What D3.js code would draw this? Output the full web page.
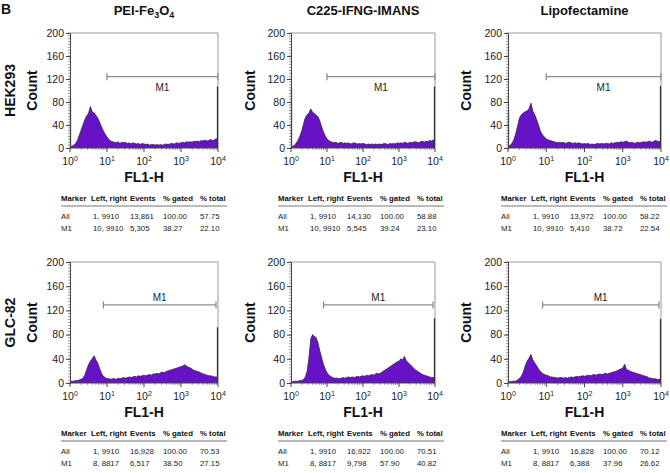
<!DOCTYPE html>
<html><head><meta charset="utf-8">
<script src="https://cdn.jsdelivr.net/npm/d3@7"></script>
<style>
body{margin:0;background:#fff}
svg{display:block}
text{font-family:"Liberation Sans",Arial,Helvetica,sans-serif}
</style>
</head><body>
<svg id="c" width="670" height="473"></svg>
<script>
// ---------- DATA ----------
const panelLetter = "B";
const rowLabels = ["HEK293", "GLC-82"];
const colTitles = [
  [["PEI-Fe", ""], ["3", "sub"], ["O", ""], ["4", "sub"]],
  [["C225-IFNG-IMANS", ""]],
  [["Lipofectamine", ""]]
];
const xAxisLabel = "FL1-H";
const yAxisLabel = "Count";
const yTicks = [0, 40, 80, 120, 160, 200];
const xTickExps = [0, 1, 2, 3, 4];
const gateName = "M1";
const gateLevel = [124, 129];          // count level of the M1 marker, per row

// channel positions (log10 of FL1-H), 0 .. 4 in steps of 0.05
const channelLogs = d3.range(0, 81).map(i => i / 20);

const hekPei = [2,3,5,8,13,22,31,40,49,56,60,72,63,61,57,52,45,37,30,24,
  19,15,12,11,10,9,11,8,10,9,10,8,9,7,9,8,7,8,6,8,
  7,6,7,5,6,6,5,6,5,6,5,6,7,6,7,8,7,8,9,8,
  9,10,9,11,10,11,10,12,11,12,11,13,12,14,12,13,15,13,14,16,
  15];
const hekC225 = [2,3,5,9,14,21,30,42,53,58,61,68,62,60,57,54,47,37,28,21,
  16,13,11,10,9,10,8,9,10,8,9,8,9,7,8,9,8,7,8,7,
  8,7,6,7,6,7,6,7,6,7,6,7,8,7,6,8,7,8,7,9,
  8,9,8,10,9,8,10,9,10,11,10,9,11,12,10,12,11,13,12,14,
  13];
const hekLipo = [3,4,8,14,24,38,52,58,61,63,65,68,78,64,58,49,39,29,23,19,
  16,14,13,12,11,10,9,10,9,10,8,9,10,9,8,9,8,9,8,7,
  8,7,8,6,7,6,7,8,7,8,7,8,8,7,9,8,9,10,9,11,
  10,11,12,10,9,10,8,9,10,9,10,11,10,11,12,10,11,13,12,11,
  12];
const glcPei = [3,3,3,4,4,5,6,8,13,22,30,36,40,45,38,33,24,16,11,9,
  7,7,6,7,7,6,8,7,8,9,8,9,10,9,10,11,10,12,11,12,
  13,12,13,14,13,15,15,16,15,17,18,17,19,20,21,22,23,24,25,26,
  27,28,30,28,26,25,23,21,20,19,18,16,15,14,13,12,12,11,10,10,
  9];
const glcC225 = [2,2,3,3,3,4,4,6,10,20,42,73,80,77,75,66,53,42,31,23,
  17,13,11,9,8,8,8,7,8,9,8,9,10,9,10,9,10,11,10,11,
  12,11,13,12,13,14,13,15,16,15,17,19,21,23,25,27,29,31,33,35,
  36,40,38,44,37,34,31,28,25,22,20,18,16,14,13,12,11,10,9,9,
  8];
const glcLipo = [2,2,3,3,3,5,8,11,18,28,36,41,47,38,33,28,23,19,16,14,
  13,12,10,10,9,9,8,9,9,8,9,8,9,10,9,10,11,10,11,12,
  11,12,13,12,13,14,13,14,15,14,15,16,15,16,17,18,19,20,22,23,
  25,31,22,21,19,18,17,16,15,14,13,12,11,10,8,8,7,7,6,6,
  5];
// counts piled in the first and last channel
const firstChannel = [[86, 105, 66], [3, 3, 3]];
const lastChannel = [[107, 107, 108], [92, 107, 106]];

const tableHeader = ["Marker", "Left, right", "Events", "% gated", "% total"];
const tables = [
  [
    [["All","1, 9910","13,861","100.00","57.75"],["M1","10, 9910","5,305","38.27","22.10"]],
    [["All","1, 9910","14,130","100.00","58.88"],["M1","10, 9910","5,545","39.24","23.10"]],
    [["All","1, 9910","13,972","100.00","58.22"],["M1","10, 9910","5,410","38.72","22.54"]]
  ],
  [
    [["All","1, 9910","16,928","100.00","70.53"],["M1","8, 8817","6,517","38.50","27.15"]],
    [["All","1, 9910","16,922","100.00","70.51"],["M1","8, 8817","9,798","57.90","40.82"]],
    [["All","1, 9910","16,828","100.00","70.12"],["M1","8, 8817","6,388","37.96","26.62"]]
  ]
];
const seriesGrid = [[hekPei, hekC225, hekLipo], [glcPei, glcC225, glcLipo]];

// ---------- LAYOUT ----------
const colX = [[70, 218], [291, 435], [508, 661]];
const rowY = [[33, 148], [262, 383]];
const tableLeft = [61, 278, 501];
const countX = [32, 250, 466];
const headerOff = [0, 30, 69, 102, 139];
const valueOff = [0, 32, 69, 102, 139];
const fillColor = "#6812c8";

const svg = d3.select("#c");

svg.append("text").attr("x", 1).attr("y", 14).attr("font-size", 14).attr("font-weight", "bold")
  .attr("fill", "#111").text(panelLetter);

// column titles
colTitles.forEach((parts, c) => {
  const t = svg.append("text").attr("x", (colX[c][0] + colX[c][1]) / 2).attr("y", 14.5)
    .attr("text-anchor", "middle").attr("font-size", 13).attr("font-weight", "bold").attr("fill", "#111");
  let shifted = 0;
  parts.forEach(([s, kind]) => {
    const ts = t.append("tspan").text(s);
    if (kind === "sub") { ts.attr("dy", 3 - shifted).attr("font-size", 9); shifted = 3; }
    else if (shifted) { ts.attr("dy", -shifted); shifted = 0; }
  });
});

rowLabels.forEach((lab, r) => {
  const [top, bottom] = rowY[r];
  svg.append("text").attr("transform", `translate(10,${(top + bottom) / 2}) rotate(-90)`)
    .attr("text-anchor", "middle").attr("dominant-baseline", "central")
    .attr("font-size", 14).attr("font-weight", "bold").attr("fill", "#111").text(lab);

  for (let c = 0; c < 3; c++) {
    const [left, right] = colX[c];
    const x = d3.scaleLog().domain([1, 1e4]).range([left, right]);
    const y = d3.scaleLinear().domain([0, 200]).range([bottom, top]);
    const g = svg.append("g");
    const data = seriesGrid[r][c].map((cnt, i) => ({ v: Math.pow(10, channelLogs[i]), c: cnt }));

    // histogram
    g.append("path").datum(data)
      .attr("d", d3.area().x(d => x(d.v)).y0(bottom).y1(d => y(d.c)))
      .attr("fill", fillColor);
    g.append("path").datum(data)
      .attr("d", d3.line().x(d => x(d.v)).y(d => y(d.c)))
      .attr("fill", "none").attr("stroke", "#2b2b2b").attr("stroke-width", 0.8);

    // frame top/right
    g.append("line").attr("x1", left).attr("x2", right).attr("y1", top).attr("y2", top)
      .attr("stroke", "#9a9a9a").attr("stroke-width", 1);
    g.append("line").attr("x1", right).attr("x2", right).attr("y1", top).attr("y2", bottom)
      .attr("stroke", "#9a9a9a").attr("stroke-width", 1);

    // edge channels
    g.append("line").attr("x1", x(1) + 0.5).attr("x2", x(1) + 0.5).attr("y1", bottom).attr("y2", y(firstChannel[r][c]))
      .attr("stroke", "#333").attr("stroke-width", 1.3);
    g.append("line").attr("x1", x(1e4) - 0.5).attr("x2", x(1e4) - 0.5).attr("y1", bottom).attr("y2", y(lastChannel[r][c]))
      .attr("stroke", "#333").attr("stroke-width", 1.3);

    // y axis
    const ya = g.append("g").attr("transform", `translate(${left},0)`)
      .call(d3.axisLeft(y).tickValues(yTicks).tickSize(4).tickPadding(2));
    ya.select(".domain").attr("stroke", "#444");
    ya.selectAll(".tick line").attr("stroke", "#444");
    ya.selectAll("text").attr("font-size", 10.5).attr("fill", "#222")
      .attr("font-family", '"Liberation Sans",Arial,sans-serif');
    g.append("g").selectAll("line").data(d3.range(0, 201, 5)).join("line")
      .attr("x1", left - 2).attr("x2", left).attr("y1", d => y(d)).attr("y2", d => y(d))
      .attr("stroke", "#555").attr("stroke-width", 0.6);

    // x axis
    g.append("line").attr("x1", left).attr("x2", right).attr("y1", bottom).attr("y2", bottom)
      .attr("stroke", "#444");
    const minors = [];
    for (let e = 0; e < 4; e++) for (let k = 2; k < 10; k++) minors.push(k * Math.pow(10, e));
    g.append("g").selectAll("line").data(minors).join("line")
      .attr("x1", d => x(d)).attr("x2", d => x(d)).attr("y1", bottom).attr("y2", bottom + 2)
      .attr("stroke", "#555").attr("stroke-width", 0.6);
    xTickExps.forEach(e => {
      const xv = x(Math.pow(10, e));
      g.append("line").attr("x1", xv).attr("x2", xv).attr("y1", bottom).attr("y2", bottom + 4).attr("stroke", "#444");
      const t = g.append("text").attr("x", xv).attr("y", bottom + 17).attr("text-anchor", "middle")
        .attr("font-size", 10.5).attr("fill", "#222");
      t.append("tspan").text("10");
      t.append("tspan").attr("dy", -4).attr("font-size", 7).text(String(e));
    });

    // axis titles
    g.append("text").attr("x", (left + right) / 2).attr("y", bottom + 34).attr("text-anchor", "middle")
      .attr("font-size", 14).attr("font-weight", "bold").attr("fill", "#111").text(xAxisLabel);
    g.append("text").attr("transform", `translate(${countX[c]},${(top + bottom) / 2}) rotate(-90)`)
      .attr("text-anchor", "middle").attr("dominant-baseline", "central")
      .attr("font-size", 14).attr("font-weight", "bold").attr("fill", "#111").text(yAxisLabel);

    // M1 gate
    const tbl = tables[r][c];
    const gateRange = tbl[1][1].split(",").map(s => +s.trim());
    const gx0 = x(gateRange[0]), gx1 = x(gateRange[1]), gy = y(gateLevel[r]);
    g.append("line").attr("x1", gx0).attr("x2", gx1).attr("y1", gy).attr("y2", gy)
      .attr("stroke", "#8c8c8c").attr("stroke-width", 1.3);
    [gx0, gx1].forEach(xx => g.append("line").attr("x1", xx).attr("x2", xx).attr("y1", gy - 3.5).attr("y2", gy + 3.5)
      .attr("stroke", "#8c8c8c").attr("stroke-width", 1.3));
    g.append("text").attr("x", (gx0 + gx1) / 2).attr("y", r === 0 ? gy + 11 : gy - 7)
      .attr("text-anchor", "middle").attr("dominant-baseline", "central")
      .attr("font-size", 10).attr("fill", "#222").text(gateName);

    // table
    const tl = tableLeft[c];
    tableHeader.forEach((h, i) => g.append("text").attr("x", tl + headerOff[i]).attr("y", bottom + 53)
      .attr("font-size", 7.8).attr("font-weight", "bold").attr("fill", "#111").text(h));
    g.append("line").attr("x1", tl).attr("x2", tl + 166).attr("y1", bottom + 58).attr("y2", bottom + 58)
      .attr("stroke", "#777").attr("stroke-width", 1);
    tbl.forEach((row, ri) => row.forEach((v, i) => g.append("text")
      .attr("x", tl + valueOff[i]).attr("y", bottom + 71 + ri * 12)
      .attr("font-size", 7.8).attr("fill", "#222").text(v)));
  }
});
</script>
</body></html>
